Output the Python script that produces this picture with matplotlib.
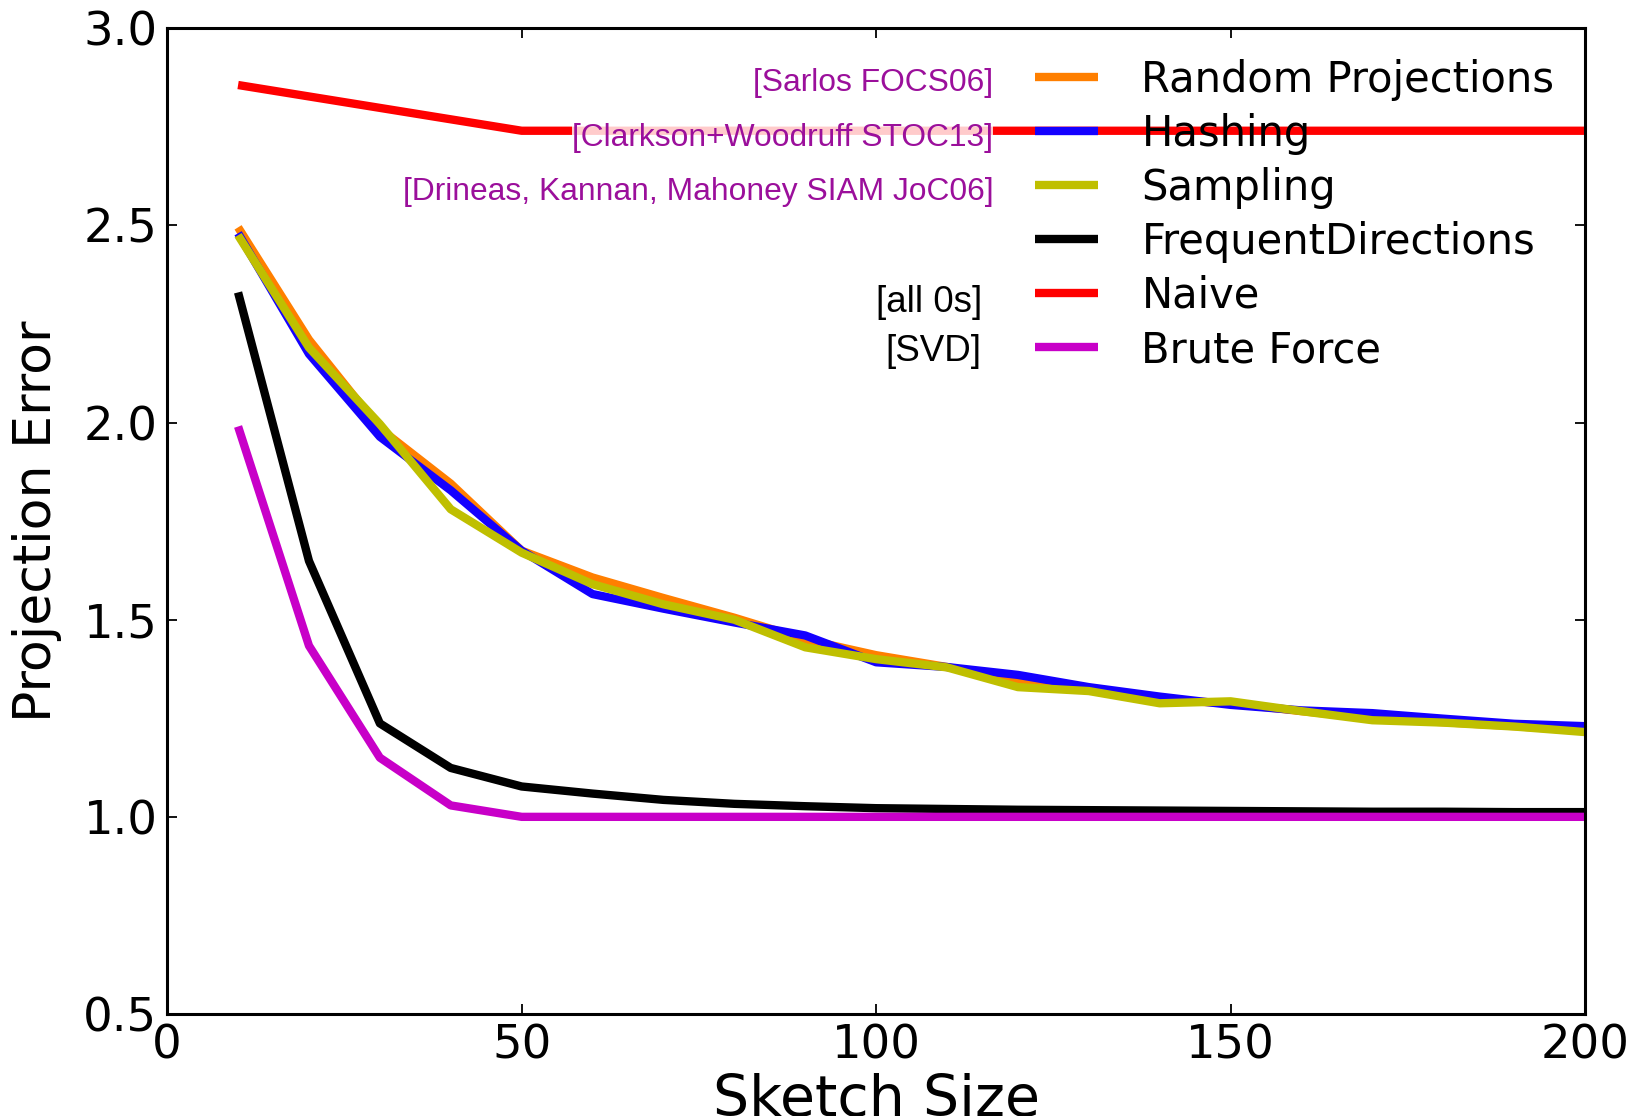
import matplotlib
matplotlib.use("Agg")
import matplotlib.pyplot as plt

# sketch sizes (x axis)
sketch_size = [10, 20, 30, 40, 50, 60, 70, 80, 90, 100,
               110, 120, 130, 140, 150, 160, 170, 180, 190, 200]

# projection error per method
random_proj = [2.495, 2.21, 1.985, 1.845, 1.675, 1.607, 1.555, 1.505, 1.45, 1.41,
               1.38, 1.345, 1.325, 1.297, 1.288, 1.268, 1.25, 1.24, 1.23, 1.218]
hashing = [2.48, 2.174, 1.964, 1.828, 1.675, 1.565, 1.528, 1.493, 1.46, 1.392,
           1.38, 1.36, 1.329, 1.305, 1.284, 1.27, 1.263, 1.249, 1.236, 1.23]
sampling = [2.475, 2.19, 1.996, 1.78, 1.67, 1.59, 1.539, 1.5, 1.43, 1.40,
            1.379, 1.329, 1.319, 1.288, 1.293, 1.268, 1.245, 1.239, 1.229, 1.215]
freq_dir = [2.33, 1.649, 1.237, 1.124, 1.077, 1.059, 1.043, 1.033, 1.027, 1.022,
            1.02, 1.018, 1.017, 1.016, 1.015, 1.014, 1.013, 1.013, 1.012, 1.012]
naive = [2.856, 2.827, 2.798, 2.769, 2.74, 2.74, 2.74, 2.74, 2.74, 2.74,
         2.74, 2.74, 2.74, 2.74, 2.74, 2.74, 2.74, 2.74, 2.74, 2.74]
brute = [1.99, 1.434, 1.15, 1.029, 1.0, 1.0, 1.0, 1.0, 1.0, 1.0,
         1.0, 1.0, 1.0, 1.0, 1.0, 1.0, 1.0, 1.0, 1.0, 1.0]

labels = ["Random Projections", "Hashing", "Sampling",
          "FrequentDirections", "Naive", "Brute Force"]
colors = ["#ff7f00", "#1400ff", "#bfbf00", "#000000", "#ff0000", "#c800c8"]

x_ticks = [0, 50, 100, 150, 200]
y_ticks = [0.5, 1.0, 1.5, 2.0, 2.5, 3.0]

citations = ["[Sarlos FOCS06]", "[Clarkson+Woodruff STOC13]",
             "[Drineas, Kannan, Mahoney SIAM JoC06]"]
notes = ["[all 0s]", "[SVD]"]

fig = plt.figure(figsize=(16.39, 11.16), dpi=100)
ax = fig.add_axes([0.1020, 0.0914, 0.8651, 0.8833])

series = [random_proj, hashing, sampling, freq_dir, naive, brute]
for ys, lab, col in zip(series, labels, colors):
    ax.plot(sketch_size, ys, color=col, lw=6, label=lab, solid_capstyle="butt")

ax.set_xlim(0, 200)
ax.set_ylim(0.5, 3.0)
ax.set_xticks(x_ticks)
ax.set_yticks(y_ticks)
ax.set_xticklabels([str(t) for t in x_ticks])
ax.set_yticklabels([f"{t:.1f}" for t in y_ticks])
ax.tick_params(direction="in", length=7, width=1.3, labelsize=33.5, pad=7,
               top=True, right=True)
for sp in ax.spines.values():
    sp.set_linewidth(2.2)

ax.set_xlabel("Sketch Size", fontsize=41, labelpad=3)
ax.set_ylabel("Projection Error", fontsize=37.5, labelpad=15)

leg = ax.legend(loc="upper left", bbox_to_anchor=(0.6122, 0.9692),
                frameon=False, fontsize=30, borderpad=0, borderaxespad=0,
                handlelength=1.5, handletextpad=1.05, labelspacing=0.29)

# citation notes next to the legend entries
cite_y = [0.9449, 0.8887, 0.8340]
for txt, yy in zip(citations, cite_y):
    t = ax.text(0.5826, yy, txt, transform=ax.transAxes, ha="right", va="center",
                fontsize=22.9, color="#9b0f9b", family="Liberation Sans")
    if "Clarkson" in txt:
        t.set_bbox(dict(facecolor="white", alpha=0.8, edgecolor="none", pad=0))

note_y = [0.7215, 0.6722]
for txt, yy in zip(notes, note_y):
    ax.text(0.5745, yy, txt, transform=ax.transAxes, ha="right", va="center",
            fontsize=26.5, color="black", family="Liberation Sans")

fig.savefig("out.png", dpi=100)
